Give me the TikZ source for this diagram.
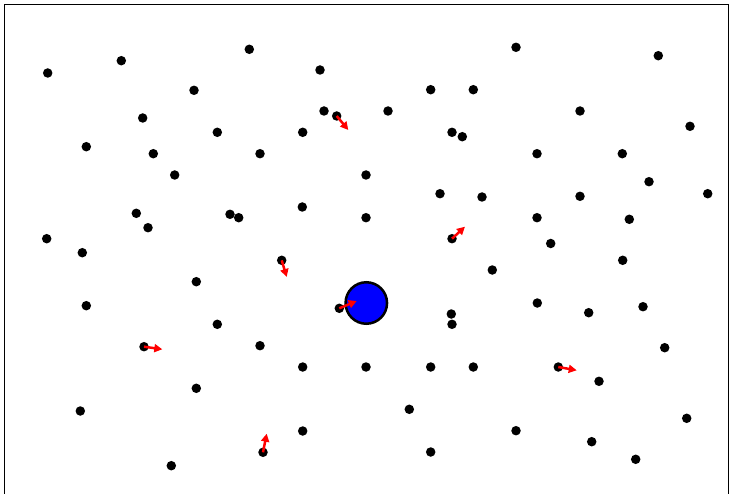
\documentclass[tikz,border=0pt]{standalone}
\usetikzlibrary{arrows.meta}
\begin{document}
\begin{tikzpicture}[x=1pt,y=-1pt,
  dot/.style={circle,fill=black,inner sep=0pt,minimum size=9.5pt},
  body/.style={circle,draw=black,line width=2.5pt,fill={rgb,255:red,0;green,0;blue,255},inner sep=0pt,minimum size=41.5pt},
  vel/.style={draw=red,line width=2.5pt,-{Triangle[length=8pt,width=8pt]}},
  frame/.style={draw=black,line width=1.5pt}]
\useasboundingbox (0,0) rectangle (730,494);
\fill[white] (0,0) rectangle (730,494);
\draw[frame] (4.5,4.5) -- (4.5,500) (4.5,4.5) -- (728.5,4.5) -- (728.5,500);
\foreach \x/\y [count=\i] in {47.7/73,121.3/60.7,249.3/49.3,320/70,516/47.3,658.3/55.7,194/90.3,430.7/89.7,473.3/89.7,324/111,388/111,580/111,690/126.3,142.7/118,217.3/132.3,302.7/132.3,452/132.3,462.3/136.7,86.3/146.7,153.3/153.7,260/153.7,537/153.7,622.3/153.7,174.7/175,366/175,649/181.7,440/193.7,482/197,580/196.3,707.7/193.7,136.3/213.3,230/214.3,238.7/217.7,302.3/207,366/217.7,537/217.7,629.3/219.3,46.7/238.7,148/227.7,82.3/252.7,550.7/243.5,622.7/260.3,492.3/270,196.3/281.7,86.3/305.7,451.3/314,452/324.3,537.3/303,588.7/312.7,643/306.7,217.3/324.3,260/345.7,664.7/347.7,302.7/367,366/367,430.7/367,473.3/367,599/381.3,196.3/388.3,80.3/411,409.3/409.3,302.7/431,516/430.7,430.7/452,591.7/441.7,686.7/418.3,635.7/459.3,171.3/465.7}
  \node[dot] (d\i) at (\x,\y) {};
\foreach \x/\y [count=\i] in {336.7/116,452/238.7,281.7/260.3,339.3/308.3,144/346.7,558.3/367,263/452.3}
  \node[dot] (a\i) at (\x,\y) {};
\node[body] (b) at (366.3,303) {};
\foreach \x/\y [count=\i] in {348.3/130,465/226.7,286.7/277,356.7/301,162.3/349.3,576.7/370.3,266.7/433.7}
  \coordinate (e\i) at (\x,\y);
\foreach \i in {1,...,7}
  \draw[vel] (a\i.center) -- (e\i);
\end{tikzpicture}
\end{document}
